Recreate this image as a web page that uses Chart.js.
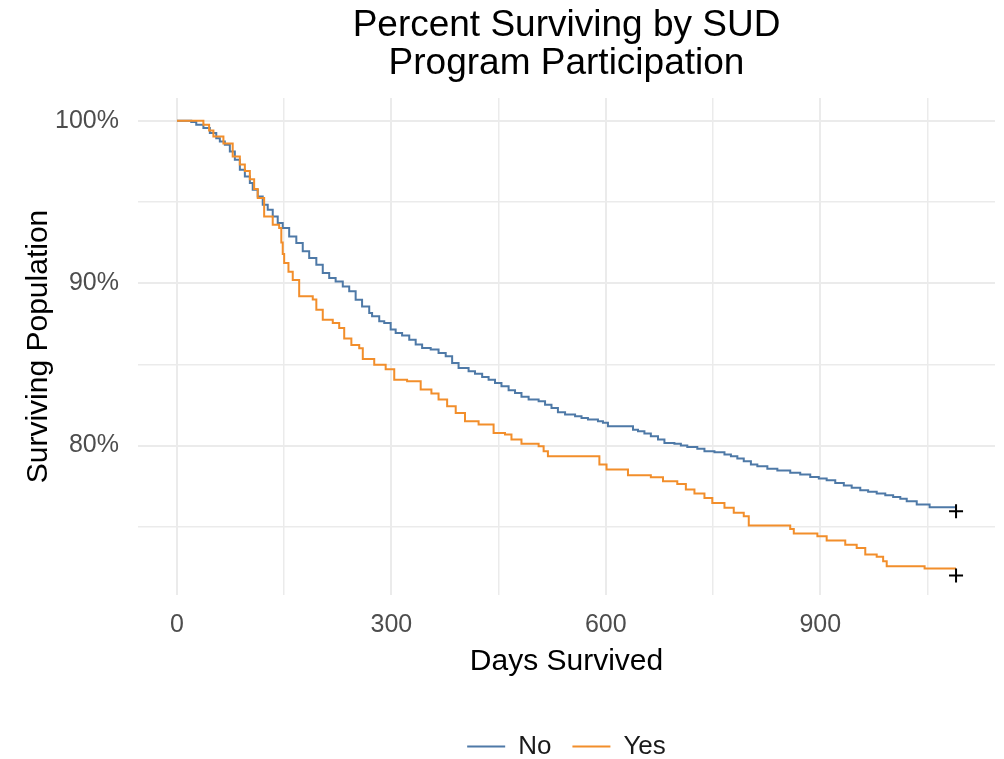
<!DOCTYPE html>
<html>
<head>
<meta charset="utf-8">
<script src="https://cdn.jsdelivr.net/npm/chart.js@4"></script>
<style>
  html, body { margin: 0; padding: 0; background: #fff; }
</style>
</head>
<body>
<canvas id="grafico" width="1004" height="759"></canvas>
<script>
// Kaplan-Meier curves, days survived vs % surviving
const noDays = [0, 20, 27, 37, 46, 55, 60, 67, 74, 81, 88, 95, 102, 106, 113, 120, 127, 134, 141, 148,
  157, 167, 176, 185, 195, 204, 213, 222, 232, 241, 250, 259, 269, 273, 283, 290, 299, 306, 315, 325,
  334, 343, 355, 366, 376, 385, 394, 408, 417, 427, 436, 445, 454, 464, 473, 482, 492, 506, 515, 524,
  533, 543, 557, 566, 575, 589, 596, 603, 638, 645, 654, 663, 673, 682, 696, 705, 714, 728, 738, 752,
  766, 775, 784, 793, 803, 812, 826, 840, 858, 872, 886, 898, 909, 921, 933, 944, 956, 967, 979, 991,
  1002, 1012, 1021, 1035, 1053, 1090];
const noSurv = [100, 99.92, 99.75, 99.55, 99.24, 98.93, 98.73, 98.52, 98.11, 97.6, 96.98, 96.57, 96.16, 95.75, 95.34, 94.83, 94.52, 94.11, 93.7, 93.4,
  92.88, 92.47, 91.96, 91.55, 91.14, 90.63, 90.32, 90.11, 89.8, 89.5, 88.98, 88.57, 88.17, 87.96, 87.65, 87.55, 87.14, 86.93, 86.77, 86.52,
  86.22, 86.01, 85.91, 85.7, 85.5, 85.09, 84.78, 84.57, 84.43, 84.23, 84.06, 83.86, 83.65, 83.4, 83.24, 83.0, 82.83, 82.73, 82.52, 82.32,
  82.05, 81.91, 81.8, 81.7, 81.6, 81.5, 81.4, 81.19, 80.98, 80.88, 80.74, 80.57, 80.37, 80.16, 80.12, 80.0, 79.92, 79.8, 79.65, 79.59,
  79.45, 79.34, 79.2, 79.03, 78.83, 78.73, 78.57, 78.46, 78.32, 78.22, 78.07, 77.97, 77.86, 77.7, 77.54, 77.4, 77.25, 77.15, 77.05, 76.94,
  76.84, 76.72, 76.57, 76.37, 76.2, 76.2];

const yesDays = [0, 34, 37, 45, 51, 65, 78, 88, 95, 102, 108, 113, 122, 134, 143, 146, 148, 150, 156, 162,
  171, 190, 195, 204, 218, 227, 234, 244, 255, 260, 276, 292, 304, 322, 341, 356, 366, 378, 390, 403,
  422, 443, 459, 468, 482, 506, 513, 519, 591, 601, 631, 663, 680, 700, 712, 724, 738, 749, 766, 779,
  793, 800, 858, 863, 896, 909, 935, 951, 963, 979, 988, 993, 1046, 1090];
const yesSurv = [100, 100, 99.75, 99.4, 99.03, 98.6, 97.8, 97.3, 96.9, 96.4, 95.8, 95.24, 94.1, 93.6, 93.4, 92.5, 91.8, 91.24, 90.7, 90.2,
  89.2, 89.0, 88.37, 87.75, 87.55, 87.24, 86.6, 86.2, 86.0, 85.33, 84.98, 84.7, 84.06, 83.96, 83.45, 83.2, 82.83, 82.42, 82.0, 81.5,
  81.3, 80.78, 80.68, 80.37, 80.12, 79.96, 79.65, 79.34, 78.83, 78.52, 78.17, 78.05, 77.8, 77.64, 77.29, 77.05, 76.78, 76.47, 76.17, 75.86,
  75.65, 75.08, 74.87, 74.58, 74.42, 74.15, 73.9, 73.7, 73.3, 73.15, 72.88, 72.57, 72.43, 72.43];

// censor marks at end of follow-up
const censorDays = [1090, 1090];
const censorSurv = [75.95, 72.0];

const grupos = ['No', 'Yes'];
const xBreaks = [0, 150, 300, 450, 600, 750, 900, 1050];
const xLabels = [0, 300, 600, 900];
const yBreaks = [75, 80, 85, 90, 95, 100];
const yLabels = [80, 90, 100];

const fam = "'Liberation Sans', Arial, sans-serif";
const toPts = (xs, ys) => xs.map((x, i) => ({ x: x, y: ys[i] }));

new Chart(document.getElementById('grafico'), {
  type: 'line',
  data: {
    datasets: [
      { label: grupos[0], data: toPts(noDays, noSurv), borderColor: '#4E79A7', backgroundColor: '#4E79A7',
        borderWidth: 2, stepped: 'before', pointRadius: 0, order: 3 },
      { label: grupos[1], data: toPts(yesDays, yesSurv), borderColor: '#F28E2B', backgroundColor: '#F28E2B',
        borderWidth: 2, stepped: 'before', pointRadius: 0, order: 2 },
      { label: 'censor', data: toPts(censorDays, censorSurv), showLine: false, pointStyle: 'cross',
        pointRadius: 7, borderColor: '#000', borderWidth: 2, order: 1 }
    ]
  },
  options: {
    responsive: false,
    animation: false,
    layout: { padding: { top: 0, right: 5, bottom: 0, left: 0 } },
    scales: {
      x: {
        type: 'linear', min: -54.5, max: 1144.5,
        afterBuildTicks: s => { s.ticks = xBreaks.map(v => ({ value: v })); },
        afterFit: s => { s.height = 117.5; },
        ticks: {
          autoSkip: false, maxRotation: 0, padding: 15, color: '#4d4d4d',
          font: { family: fam, size: 25 },
          callback: v => xLabels.includes(v) ? String(v) : ''
        },
        grid: { color: '#ebebeb', drawTicks: false,
          lineWidth: c => (c.tick && xLabels.includes(c.tick.value)) ? 2 : 1.5 },
        border: { display: false },
        title: { display: true, text: 'Days Survived', color: '#000',
          font: { family: fam, size: 30 }, padding: { top: 0, bottom: 32.5 } }
      },
      y: {
        type: 'linear', min: 70.8, max: 101.4,
        afterBuildTicks: s => { s.ticks = yBreaks.map(v => ({ value: v })); },
        afterFit: s => { s.width = 138; },
        ticks: {
          autoSkip: false, padding: 19, color: '#4d4d4d',
          font: { family: fam, size: 25 },
          callback: v => yLabels.includes(v) ? v + '%' : ''
        },
        grid: { color: '#ebebeb', drawTicks: false,
          lineWidth: c => (c.tick && yLabels.includes(c.tick.value)) ? 2 : 1.5 },
        border: { display: false },
        title: { display: true, text: 'Surviving Population', color: '#000',
          font: { family: fam, size: 30 }, padding: { top: 21, bottom: 0 } }
      }
    },
    plugins: {
      title: {
        display: true, fullSize: false,
        text: ['Percent Surviving by SUD', 'Program Participation'],
        color: '#000',
        font: { family: fam, size: 37, weight: 'normal', lineHeight: 1.038 },
        padding: { top: 6.5, bottom: 14.7 }
      },
      legend: {
        position: 'bottom', fullSize: false, maxHeight: 46.5,
        labels: {
          usePointStyle: true, pointStyle: 'line', pointStyleWidth: 38,
          padding: 21, color: '#1a1a1a',
          font: { family: fam, size: 26 },
          filter: item => item.datasetIndex < 2,
          sort: (a, b) => a.datasetIndex - b.datasetIndex
        }
      },
      tooltip: { enabled: false }
    }
  }
});
</script>
</body>
</html>
